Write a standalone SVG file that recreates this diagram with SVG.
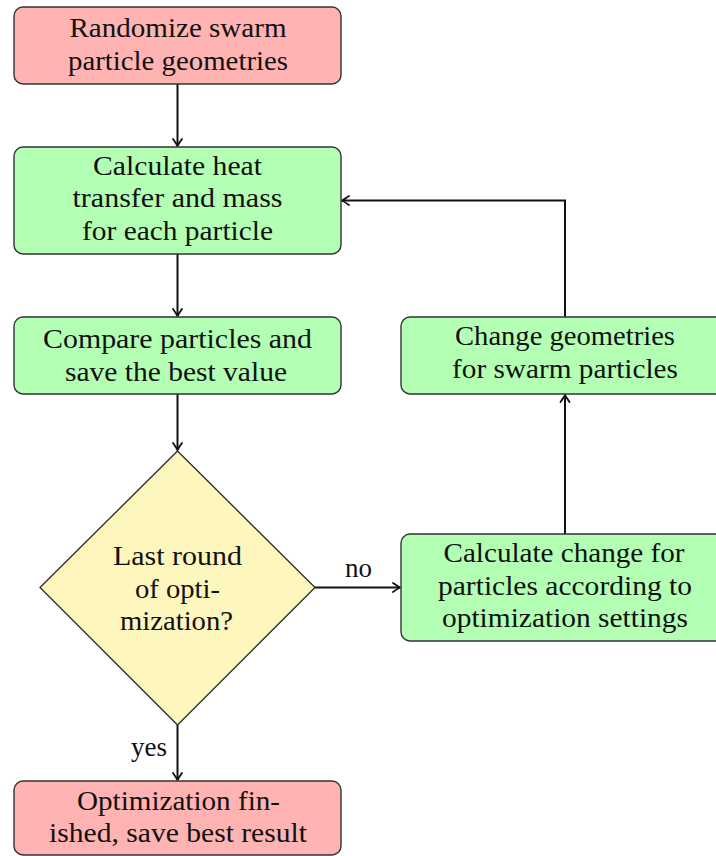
<svg xmlns="http://www.w3.org/2000/svg" width="716" height="856" viewBox="0 0 716 856">
<defs>
<style>
.box{stroke:#333;stroke-width:1.4}
.red{fill:#ffb3b3}
.green{fill:#b3ffb3}
.yellow{fill:#fdf6bd}
.edge{fill:none;stroke:#111;stroke-width:2}
</style>
<marker id="arr" viewBox="-9 -6 10 12" markerWidth="10" markerHeight="12" refX="0" refY="0" orient="auto" markerUnits="userSpaceOnUse">
<path d="M-7,-4.5 Q-2,-1 0,0 Q-2,1 -7,4.5" fill="none" stroke="#111" stroke-width="1.8" stroke-linecap="round"/>
</marker>
</defs>
<rect width="716" height="856" fill="#fff"/>
<g font-family="Liberation Serif, DejaVu Serif, serif" font-size="27" fill="#111" text-anchor="middle">
<g id="connectors">
<path class="edge" d="M177.5,84 V146" marker-end="url(#arr)"/>
<path class="edge" d="M177.5,254 V316" marker-end="url(#arr)"/>
<path class="edge" d="M177.5,394 V450" marker-end="url(#arr)"/>
<path class="edge" d="M177.5,725 V780" marker-end="url(#arr)"/>
<path class="edge" d="M315,587.5 H400" marker-end="url(#arr)"/>
<path class="edge" d="M565,534 V395" marker-end="url(#arr)"/>
<path class="edge" d="M565,317 V200.5 H342" marker-end="url(#arr)"/>
<text x="149" y="756" textLength="36" lengthAdjust="spacingAndGlyphs">yes</text>
<text x="358.5" y="577" textLength="27" lengthAdjust="spacingAndGlyphs">no</text>
</g>
<g id="n1">
<rect class="box red" x="14" y="7" width="327" height="77" rx="9"/>
<text x="178" y="37" textLength="217" lengthAdjust="spacingAndGlyphs">Randomize swarm</text>
<text x="178" y="70" textLength="220" lengthAdjust="spacingAndGlyphs">particle geometries</text>
</g>
<g id="n2">
<rect class="box green" x="14" y="147" width="327" height="107" rx="9"/>
<text x="177.5" y="175" textLength="169" lengthAdjust="spacingAndGlyphs">Calculate heat</text>
<text x="177.5" y="207" textLength="210" lengthAdjust="spacingAndGlyphs">transfer and mass</text>
<text x="177.5" y="240" textLength="191" lengthAdjust="spacingAndGlyphs">for each particle</text>
</g>
<g id="n3">
<rect class="box green" x="14" y="317" width="327" height="77" rx="9"/>
<text x="177.5" y="348" textLength="269" lengthAdjust="spacingAndGlyphs">Compare particles and</text>
<text x="176" y="381" textLength="222" lengthAdjust="spacingAndGlyphs">save the best value</text>
</g>
<g id="n4">
<polygon class="box yellow" points="177.5,451 315,587.5 177.5,725 40,587.5"/>
<text x="177.5" y="565" textLength="129" lengthAdjust="spacingAndGlyphs">Last round</text>
<text x="177.5" y="598" textLength="85" lengthAdjust="spacingAndGlyphs">of opti-</text>
<text x="176.5" y="630" textLength="113" lengthAdjust="spacingAndGlyphs">mization?</text>
</g>
<g id="n5">
<rect class="box green" x="401" y="534" width="328" height="107" rx="9"/>
<text x="564" y="562" textLength="241" lengthAdjust="spacingAndGlyphs">Calculate change for</text>
<text x="565" y="595" textLength="254" lengthAdjust="spacingAndGlyphs">particles according to</text>
<text x="565" y="627" textLength="246" lengthAdjust="spacingAndGlyphs">optimization settings</text>
</g>
<g id="n6">
<rect class="box green" x="401" y="317" width="328" height="77" rx="9"/>
<text x="565" y="345" textLength="220" lengthAdjust="spacingAndGlyphs">Change geometries</text>
<text x="565" y="378" textLength="226" lengthAdjust="spacingAndGlyphs">for swarm particles</text>
</g>
<g id="n7">
<rect class="box red" x="14" y="781" width="327" height="74" rx="9"/>
<text x="178.5" y="810" textLength="203" lengthAdjust="spacingAndGlyphs">Optimization fin-</text>
<text x="178" y="842" textLength="258" lengthAdjust="spacingAndGlyphs">ished, save best result</text>
</g>
</g>
</svg>
